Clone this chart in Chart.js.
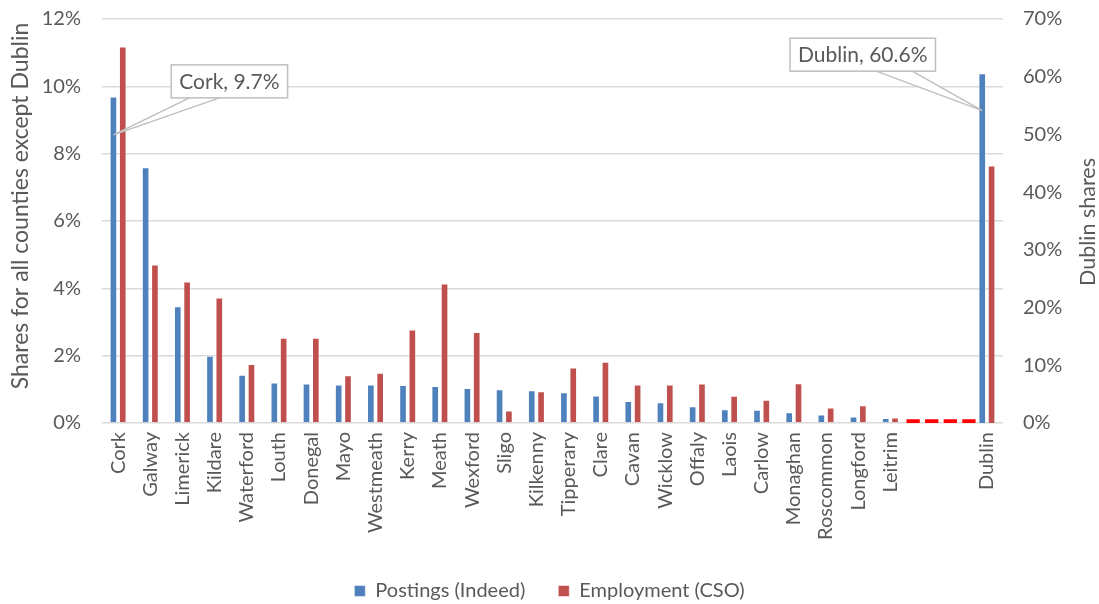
<!DOCTYPE html>
<html><head><meta charset="utf-8">
<script src="https://cdn.jsdelivr.net/npm/chart.js@4/dist/chart.umd.min.js"></script>
<style>html,body{margin:0;padding:0;background:#fff}</style>
</head><body>
<canvas id="c" width="1099" height="604"></canvas>
<script>
// ---- data ----
const categories = ['Cork','Galway','Limerick','Kildare','Waterford','Louth','Donegal','Mayo','Westmeath','Kerry','Meath','Wexford','Sligo','Kilkenny','Tipperary','Clare','Cavan','Wicklow','Offaly','Laois','Carlow','Monaghan','Roscommon','Longford','Leitrim','','','Dublin'];
const postings   = [9.7,7.6,3.47,2.0,1.43,1.2,1.17,1.14,1.14,1.13,1.1,1.04,1.0,0.97,0.91,0.82,0.65,0.62,0.5,0.41,0.39,0.32,0.25,0.19,0.15,null,null,null];
const employment = [11.18,4.71,4.2,3.73,1.75,2.53,2.53,1.42,1.49,2.78,4.14,2.7,0.37,0.94,1.65,1.82,1.14,1.14,1.17,0.81,0.69,1.18,0.46,0.53,0.16,null,null,null];
const dublinPostings = 60.6;
const dublinEmployment = 44.6;
const breakLine = [{x:24.5,y:0.05},{x:26.65,y:0.05}];
const leftTicks = [0,2,4,6,8,10,12];
const rightTicks = [0,10,20,30,40,50,60,70];
const seriesNames = ['Postings (Indeed)','Employment (CSO)'];
const axisTitles = ['Shares for all counties except Dublin','Dublin shares'];

const dublinIdx = categories.indexOf('Dublin');
const dubP = categories.map((c,i)=> i===dublinIdx ? dublinPostings : null);
const dubE = categories.map((c,i)=> i===dublinIdx ? dublinEmployment : null);

const BLUE = '#4F81BD', RED = '#C0504D', TXT = '#595959';
const FONT = 'Lato';
const FS = 20;

const barCommon = {
  type:'bar', xAxisID:'x', categoryPercentage:0.58, barPercentage:0.82, skipNull:true,
  borderColor:'rgba(255,255,255,0.5)', borderWidth:1
};

const callouts = [
  {ds:0, idx:0, frac:0.118, dx:116, dy:-53.5, w1:-40, w2:-10},
  {ds:2, idx:dublinIdx, frac:0.107, dx:-119.5, dy:-56, w1:13.5, w2:49.5}
];

function drawRotated(ctx, text, x, y, size){
  ctx.save();
  ctx.font = `${size}px ${FONT}`;
  ctx.translate(x, y);
  ctx.rotate(-Math.PI/2);
  ctx.fillStyle = TXT; ctx.textAlign = 'center'; ctx.textBaseline = 'middle';
  ctx.fillText(text, 0, 0);
  ctx.restore();
}

const calloutPlugin = {
  id:'callouts',
  afterDatasetsDraw(chart){
    const ctx = chart.ctx;
    ctx.save();
    ctx.font = `21px ${FONT}`;
    callouts.forEach(c=>{
      const el = chart.getDatasetMeta(c.ds).data[c.idx];
      const v = chart.data.datasets[c.ds].data[c.idx];
      const label = `${categories[c.idx]}, ${v}%`;
      const ax = el.x, ay = el.y + (el.base - el.y)*c.frac;
      const cx = ax + c.dx, cy = ay + c.dy;
      const tw = ctx.measureText(label).width;
      const bw = tw + 16, bh = 33;
      const bx = cx - bw/2, by = cy - bh/2;
      ctx.beginPath();
      ctx.moveTo(cx + c.w1, by + bh);
      ctx.lineTo(ax, ay);
      ctx.lineTo(cx + c.w2, by + bh);
      ctx.closePath();
      ctx.fillStyle = '#fff'; ctx.fill();
      ctx.beginPath();
      ctx.moveTo(cx + c.w1, by + bh); ctx.lineTo(ax, ay); ctx.lineTo(cx + c.w2, by + bh);
      ctx.strokeStyle = '#BFBFBF'; ctx.lineWidth = 1.4; ctx.stroke();
      ctx.fillStyle = '#fff';
      ctx.fillRect(bx, by, bw, bh);
      ctx.strokeStyle = '#BFBFBF'; ctx.lineWidth = 1.5;
      ctx.strokeRect(bx, by, bw, bh);
      ctx.fillStyle = TXT; ctx.textAlign = 'center'; ctx.textBaseline = 'middle';
      ctx.fillText(label, cx, cy + 1);
    });
    ctx.restore();
    const mid = (chart.chartArea.top + chart.chartArea.bottom)/2;
    drawRotated(ctx, axisTitles[0], 21, mid - 15, 23);
    drawRotated(ctx, axisTitles[1], 1088, mid + 1, 21.5);
  }
};

new Chart(document.getElementById('c'), {
  data: {
    labels: categories,
    datasets: [
      {...barCommon, label:seriesNames[0], data:postings, yAxisID:'y', backgroundColor:BLUE},
      {...barCommon, label:seriesNames[1], data:employment, yAxisID:'y', backgroundColor:RED},
      {...barCommon, label:seriesNames[0]+' Dublin', data:dubP, yAxisID:'y1', backgroundColor:BLUE},
      {...barCommon, label:seriesNames[1]+' Dublin', data:dubE, yAxisID:'y1', backgroundColor:RED},
      {type:'line', label:'break', data:breakLine, parsing:false, xAxisID:'x', yAxisID:'y', borderColor:'#FF0000',
       borderWidth:4, borderDash:[13.3,5.3], pointRadius:0, fill:false, borderCapStyle:'butt'}
    ]
  },
  options: {
    indexAxis:'x',
    responsive:false, animation:false,
    layout:{padding:{top:19,left:0,right:0,bottom:-7}},
    plugins:{
      tooltip:{enabled:false},
      legend:{
        position:'bottom',
        labels:{
          filter:(item)=> item.datasetIndex < 2,
          boxWidth:11, boxHeight:11, padding:33, color:TXT,
          font:{family:FONT, size:FS}
        }
      }
    },
    scales:{
      x:{
        type:'category', offset:true,
        grid:{display:false, drawTicks:false}, border:{display:false},
        ticks:{autoSkip:false, maxRotation:90, minRotation:90, padding:9, color:TXT, font:{family:FONT,size:FS}},
        afterFit:(s)=>{ s.height = 125; s.paddingLeft = 0; s.paddingRight = 0; }
      },
      y:{
        position:'left', min:leftTicks[0], max:leftTicks[leftTicks.length-1],
        afterBuildTicks:(s)=>{ s.ticks = leftTicks.map(v=>({value:v})); },
        ticks:{padding:21, color:TXT, font:{family:FONT,size:FS}, callback:(v)=>v+'%'},
        grid:{color:'#D9D9D9', lineWidth:1.6, drawTicks:false},
        border:{display:false},
        afterFit:(s)=>{ s.width = 102; s.paddingTop = 0; s.paddingBottom = 0; }
      },
      y1:{
        position:'right', min:rightTicks[0], max:rightTicks[rightTicks.length-1],
        afterBuildTicks:(s)=>{ s.ticks = rightTicks.map(v=>({value:v})); },
        ticks:{padding:20, color:TXT, font:{family:FONT,size:FS}, callback:(v)=>v+'%'},
        grid:{display:false, drawTicks:false},
        border:{display:false},
        afterFit:(s)=>{ s.width = 96; s.paddingTop = 0; s.paddingBottom = 0; }
      }
    }
  },
  plugins:[calloutPlugin]
});
</script>
</body></html>
